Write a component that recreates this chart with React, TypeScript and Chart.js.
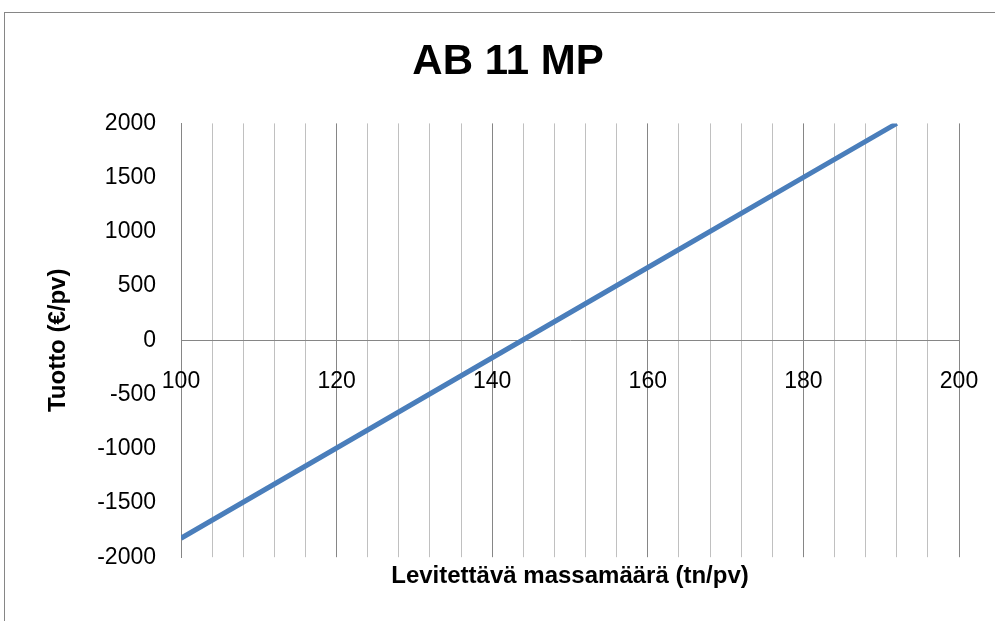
import React, { useEffect, useRef } from "react";
import { Chart, registerables } from "chart.js";

Chart.register(...registerables);

const chartTitle = "AB 11 MP";
const xAxisTitle = "Levitettävä massamäärä (tn/pv)";
const yAxisTitle = "Tuotto (€/pv)";

// Levitettävä massamäärä (tn/pv)
const massValues = [100, 120, 140, 160, 180, 192];
// Tuotto (€/pv)
const profitValues = [-1825, -993, -161, 671, 1502, 2000];

const xMin = 100;
const xMax = 200;
const xStep = 4;
const xLabelStep = 20;
const yMin = -2000;
const yMax = 2000;
const yStep = 500;

const FONT = "'Liberation Sans', Arial, sans-serif";
const TITLE_FONT = "'Liberation Sans Narrow', 'Liberation Sans', Arial, sans-serif";

export default function App() {
  const canvasRef = useRef<HTMLCanvasElement | null>(null);

  useEffect(() => {
    const canvas = canvasRef.current;
    if (!canvas) return;
    const points = massValues.map((x, i) => ({ x, y: profitValues[i] }));
    const chart = new Chart(canvas, {
      type: "line",
      data: {
        datasets: [
          {
            label: "Tuotto",
            data: points,
            borderColor: "#4a7ebb",
            backgroundColor: "#4a7ebb",
            borderWidth: 5,
            pointRadius: 0,
            tension: 0,
            xAxisID: "x",
            yAxisID: "y",
          },
        ],
      },
      options: {
        responsive: false,
        animation: false,
        events: [],
        layout: { padding: { left: 57, right: 36, top: 0, bottom: 30 } },
        plugins: {
          legend: { display: false },
          tooltip: { enabled: false },
          title: {
            display: true,
            text: chartTitle,
            color: "#000000",
            font: { family: TITLE_FONT, size: 42, weight: "bold" },
            padding: { top: 37, bottom: 36 },
          },
        },
        scales: {
          y: {
            type: "linear",
            position: "left",
            min: yMin,
            max: yMax,
            afterFit: (scale: any) => {
              scale.width = 124;
            },
            ticks: {
              stepSize: yStep,
              color: "#000000",
              padding: 25,
              font: { family: FONT, size: 23 },
              callback: (v: any) => String(v),
            },
            grid: { display: false, drawTicks: false },
            border: { display: true, color: "#868686", width: 1 },
            title: {
              display: true,
              text: yAxisTitle,
              color: "#000000",
              font: { family: FONT, size: 24, weight: "bold" },
              padding: { top: -13, bottom: 0 },
            },
          },
          x: {
            type: "linear",
            position: { y: 0 },
            min: xMin,
            max: xMax,
            afterFit: (scale: any) => {
              scale.paddingLeft = 0;
              scale.paddingRight = 0;
            },
            ticks: {
              stepSize: xStep,
              autoSkip: false,
              maxRotation: 0,
              color: "#000000",
              padding: 28,
              font: { family: FONT, size: 23 },
              callback: (v: any) => (Number(v) % xLabelStep === 0 ? String(v) : ""),
            },
            grid: {
              drawTicks: false,
              color: (ctx: any) =>
                ctx.tick && Math.round(ctx.tick.value) % xLabelStep === 0 ? "#868686" : "#c0c0c0",
              lineWidth: 1,
            },
            border: { display: true, color: "#868686", width: 1 },
          },
          x2: {
            type: "linear",
            position: "bottom",
            min: xMin,
            max: xMax,
            afterFit: (scale: any) => {
              scale.paddingLeft = 0;
              scale.paddingRight = 0;
            },
            ticks: { display: false },
            grid: { display: false, drawTicks: false },
            border: { display: false },
            title: {
              display: true,
              text: xAxisTitle,
              color: "#000000",
              font: { family: FONT, size: 24, weight: "bold" },
              padding: { top: 5, bottom: 0 },
            },
          },
        },
      },
    });
    return () => chart.destroy();
  }, []);

  return (
    <div
      style={{
        position: "absolute",
        left: 0,
        top: 0,
        width: 995,
        height: 621,
        overflow: "hidden",
        background: "#ffffff",
      }}
    >
      <div
        style={{
          position: "absolute",
          left: 4,
          top: 12,
          width: 991,
          height: 609,
          borderLeft: "1px solid #868686",
          borderTop: "1px solid #868686",
          boxSizing: "border-box",
        }}
      />
      <canvas
        ref={canvasRef}
        width={995}
        height={621}
        style={{ position: "absolute", left: 0, top: 0, width: 995, height: 621 }}
      />
    </div>
  );
}
